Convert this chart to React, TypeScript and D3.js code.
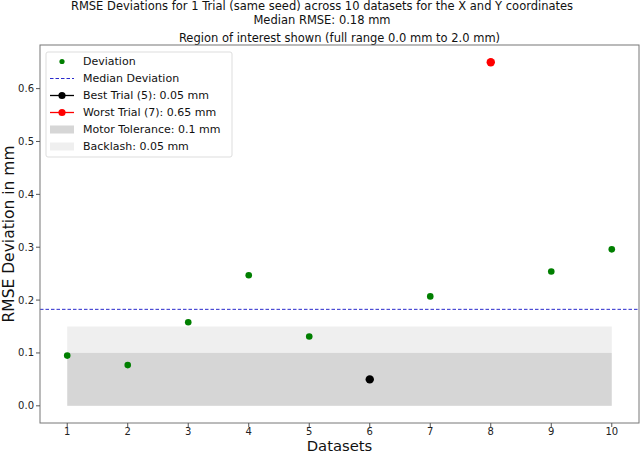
import React from 'react';
import * as d3 from 'd3';

// values
const datasets = [1, 2, 3, 4, 5, 6, 7, 8, 9, 10];
const deviations = [0.095, 0.077, 0.158, 0.247, 0.131, 0.05, 0.207, 0.65, 0.254, 0.296];
const bestIndex = 5;   // dataset 6
const worstIndex = 7;  // dataset 8
const medianValue = 0.1825;
const motorTolerance = 0.1;
const backlash = 0.05;
const yTicks = [0.0, 0.1, 0.2, 0.3, 0.4, 0.5, 0.6];
const legendLabels = [
    'Deviation',
    'Median Deviation',
    'Best Trial (5): 0.05 mm',
    'Worst Trial (7): 0.65 mm',
    'Motor Tolerance: 0.1 mm',
    'Backlash: 0.05 mm',
];

const W = 640;
const H = 454;
const margin = { top: 45, right: 1, bottom: 31, left: 40 };
const font = 'DejaVu Sans, sans-serif';

export default function App() {
    const x = d3.scaleLinear()
        .domain([0.55, 10.45])
        .range([margin.left, W - margin.right]);

    const y = d3.scaleLinear()
        .domain([-0.0325, 0.6825])
        .range([H - margin.bottom, margin.top]);

    const x0 = x(datasets[0]);
    const x1 = x(datasets[datasets.length - 1]);

    const pointColor = (i: number) => i === bestIndex ? '#000000' : i === worstIndex ? '#ff0000' : '#007f00';

    const lx = 46, ly = 52, lrow = 17;

    return (
        <svg width={W} height={H} style={{ position: 'absolute', left: 0, top: 0, background: '#fff' }} fontFamily={font}>
            {/* titles */}
            <text x={322} y={10} fontSize={11.5} textAnchor="middle" fill="#111">RMSE Deviations for 1 Trial (same seed) across 10 datasets for the X and Y coordinates</text>
            <text x={322} y={24} fontSize={11.5} textAnchor="middle" fill="#111">Median RMSE: 0.18 mm</text>
            <text x={(margin.left + W - margin.right) / 2} y={42} fontSize={11.5} textAnchor="middle" fill="#111">Region of interest shown (full range 0.0 mm to 2.0 mm)</text>

            {/* tolerance bands */}
            <rect x={x0} width={x1 - x0} y={y(motorTolerance + backlash)} height={y(motorTolerance) - y(motorTolerance + backlash)} fill="#efefef" />
            <rect x={x0} width={x1 - x0} y={y(motorTolerance)} height={y(0) - y(motorTolerance)} fill="#d6d6d6" />

            {/* median line */}
            <line x1={margin.left} x2={W - margin.right} y1={y(medianValue)} y2={y(medianValue)} stroke="#2a2acc" strokeWidth={1} strokeDasharray="3.5,2" />

            {/* points */}
            {deviations.map((d, i) => (
                <circle key={i} cx={x(datasets[i])} cy={y(d)} r={i === bestIndex || i === worstIndex ? 4.2 : 3.3} fill={pointColor(i)} />
            ))}

            {/* axes frame */}
            <rect x={margin.left} y={margin.top} width={W - margin.right - margin.left} height={H - margin.bottom - margin.top} fill="none" stroke="#777" strokeWidth={1} />

            {/* x ticks */}
            {datasets.map(d => (
                <g key={d} transform={`translate(${x(d)},${H - margin.bottom})`}>
                    <line y2={4} stroke="#555" />
                    <text y={11.5} fontSize={10} textAnchor="middle" fill="#222">{d}</text>
                </g>
            ))}

            {/* y ticks */}
            {yTicks.map(t => (
                <g key={t} transform={`translate(${margin.left},${y(t)})`}>
                    <line x2={-4} stroke="#555" />
                    <text x={-6} dy="0.35em" fontSize={10} textAnchor="end" fill="#222">{t.toFixed(1)}</text>
                </g>
            ))}

            {/* axis labels */}
            <text x={(margin.left + W - margin.right) / 2} y={450.8} fontSize={14.8} textAnchor="middle" fill="#111">Datasets</text>
            <text transform={`translate(14,${(margin.top + H - margin.bottom) / 2}) rotate(-90)`} fontSize={15.5} textAnchor="middle" fill="#111">RMSE Deviation in mm</text>

            {/* legend */}
            <rect x={lx} y={ly} width={186} height={105} rx={2} fill="#fff" fillOpacity={0.85} stroke="#ddd" />
            {legendLabels.map((label, i) => {
                const cy = ly + 9.5 + i * lrow;
                const hx = lx + 4, hw = 24;
                let handle: React.ReactNode = null;
                if (i === 0) handle = <circle cx={hx + hw / 2} cy={cy} r={2.6} fill="#007f00" />;
                else if (i === 1) handle = <line x1={hx} x2={hx + hw} y1={cy} y2={cy} stroke="#2a2acc" strokeDasharray="3.5,2" />;
                else if (i === 2 || i === 3) {
                    const c = i === 2 ? '#000000' : '#ff0000';
                    handle = <g><line x1={hx} x2={hx + hw} y1={cy} y2={cy} stroke={c} strokeWidth={1.3} /><circle cx={hx + hw / 2} cy={cy} r={3.6} fill={c} /></g>;
                } else {
                    handle = <rect x={hx} y={cy - 4} width={hw} height={8} fill={i === 4 ? '#d6d6d6' : '#efefef'} />;
                }
                return (
                    <g key={label}>
                        {handle}
                        <text x={lx + 37} y={cy} dy="0.35em" fontSize={11} fill="#111">{label}</text>
                    </g>
                );
            })}
        </svg>
    );
}
